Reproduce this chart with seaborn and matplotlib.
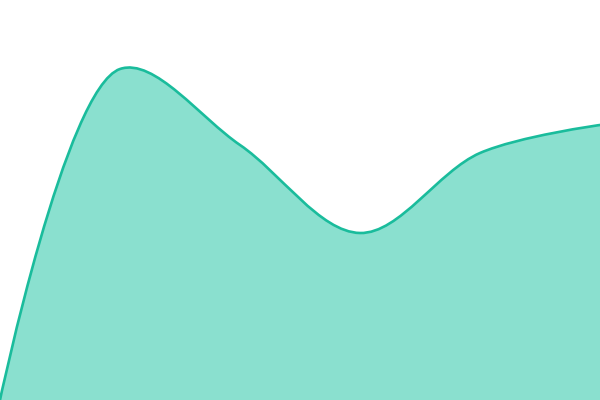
import numpy as np
import matplotlib
matplotlib.use("Agg")
import matplotlib.pyplot as plt
from matplotlib.path import Path
from matplotlib.patches import PathPatch
import seaborn as sns

# data (x = index, y = value on a 0..400 scale)
steps = [0, 1, 2, 3, 4, 5]
values = [0, 331, 255, 167, 247, 275]

LINE = "#1abc9c"
FILL = "#8ae0cf"


def catmull_rom_pixels(pts, alpha=0.5):
    """Centripetal Catmull-Rom through pts (pixel coords) as bezier vertices."""
    eps = 1e-12
    n = len(pts)
    verts = [tuple(pts[0])]
    codes = [Path.MOVETO]
    for i in range(n - 1):
        p1, p2 = pts[i], pts[i + 1]
        p0 = pts[i - 1] if i > 0 else None
        p3 = pts[i + 2] if i + 2 < n else None
        l12_2a = np.linalg.norm(p2 - p1) ** (2 * alpha)
        l12_a = np.sqrt(l12_2a)
        c1, c2 = p1.copy(), p2.copy()
        if p0 is not None:
            l01_2a = np.linalg.norm(p1 - p0) ** (2 * alpha)
            l01_a = np.sqrt(l01_2a)
            if l01_a > eps:
                a = 2 * l01_2a + 3 * l01_a * l12_a + l12_2a
                m = 3 * l01_a * (l01_a + l12_a)
                c1 = (p1 * a - p0 * l12_2a + p2 * l01_2a) / m
        if p3 is not None:
            l23_2a = np.linalg.norm(p3 - p2) ** (2 * alpha)
            l23_a = np.sqrt(l23_2a)
            if l23_a > eps:
                b = 2 * l23_2a + 3 * l23_a * l12_a + l12_2a
                m = 3 * l23_a * (l23_a + l12_a)
                c2 = (p2 * b + p1 * l23_2a - p3 * l12_2a) / m
        verts += [tuple(c1), tuple(c2), tuple(p2)]
        codes += [Path.CURVE4] * 3
    return verts, codes


sns.set_theme(style="white")
fig = plt.figure(figsize=(6, 4), dpi=100)
ax = fig.add_axes([0, 0, 1, 1])
ax.set_xlim(steps[0], steps[-1])
ax.set_ylim(0, 400)
ax.axis("off")

# build the smooth curve in screen space, then map back to data space
pix = ax.transData.transform(np.column_stack([steps, values]))
verts, codes = catmull_rom_pixels(pix)
verts = ax.transData.inverted().transform(np.array(verts))
verts = [tuple(v) for v in verts]

area_verts = verts + [(steps[-1], 0), (steps[0], 0), verts[0]]
area_codes = codes + [Path.LINETO, Path.LINETO, Path.CLOSEPOLY]
ax.add_patch(PathPatch(Path(area_verts, area_codes), facecolor=FILL, edgecolor="none"))
ax.add_patch(PathPatch(Path(verts, codes), facecolor="none", edgecolor=LINE,
                       lw=1.9, capstyle="round", joinstyle="round"))

fig.savefig("out.png", dpi=100)
